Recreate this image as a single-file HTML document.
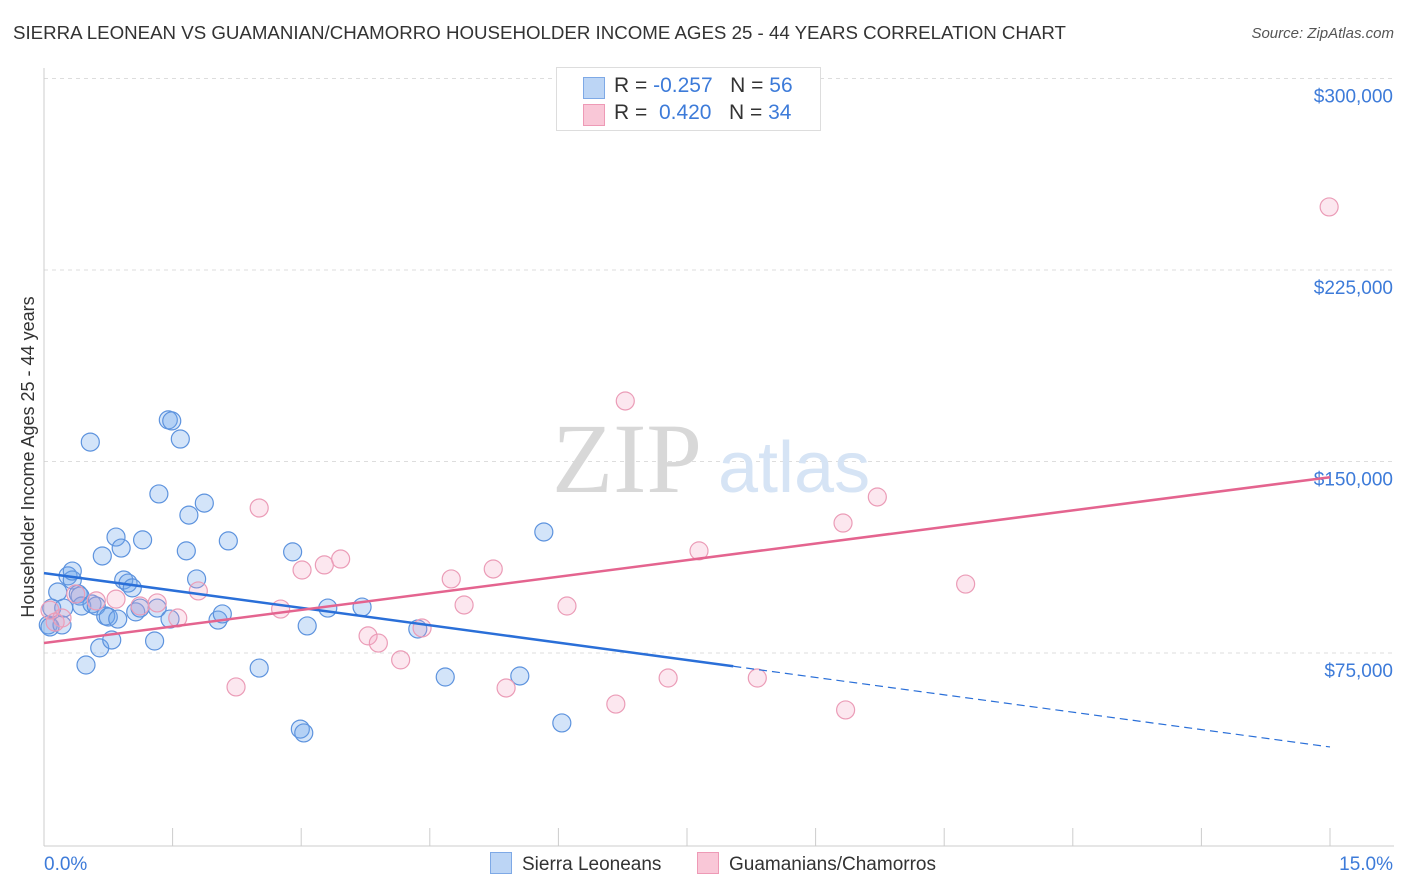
<!DOCTYPE html>
<html><head><meta charset="utf-8"><style>
body{margin:0;background:#fff;font-family:"Liberation Sans",sans-serif;}
#wrap{position:relative;width:1406px;height:892px;overflow:hidden;}
.t{position:absolute;white-space:nowrap;}
</style></head><body>
<div id="wrap">
<div class="t" style="left:13px;top:22px;font-size:18.7px;color:#333;">SIERRA LEONEAN VS GUAMANIAN/CHAMORRO HOUSEHOLDER INCOME AGES 25 - 44 YEARS CORRELATION CHART</div>
<div class="t" style="right:12px;top:25px;font-size:15px;color:#555;font-style:italic;">Source: ZipAtlas.com</div>
<svg id="svg" width="1406" height="892" style="position:absolute;left:0;top:0"></svg>
</div>
<script>
const yTicks=[75000,150000,225000,300000];
const yTickLabels=["$75,000","$150,000","$225,000","$300,000"];
const xTickLabels=["0.0%","15.0%"];
const blueX=[0.05,0.07,0.09,0.16,0.21,0.23,0.28,0.33,0.33,0.40,0.42,0.44,0.49,0.54,0.56,0.61,0.65,0.68,0.72,0.75,0.79,0.84,0.86,0.90,0.93,0.98,1.03,1.07,1.12,1.15,1.29,1.32,1.34,1.45,1.49,1.47,1.59,1.66,1.69,1.78,1.87,2.03,2.08,2.15,2.51,2.90,2.99,3.03,3.07,3.31,3.71,4.36,4.68,5.55,5.83,6.04];
const blueY=[86.0,85.2,92.6,98.9,86.0,92.6,105.2,103.6,107.1,98.1,97.3,93.4,70.3,157.6,94.2,93.4,77.0,113.0,89.5,89.1,80.1,120.4,88.3,116.1,103.6,102.4,100.5,91.1,92.6,119.3,79.7,92.6,137.3,166.3,165.9,88.3,158.8,115.0,129.0,104.0,133.7,87.9,90.3,118.9,69.1,114.6,45.2,43.7,85.6,92.6,93.0,84.4,65.6,66.0,122.4,47.6];
const pinkX=[0.07,0.13,0.21,0.37,0.61,0.84,1.12,1.32,1.56,1.80,2.24,2.51,2.76,3.01,3.27,3.46,3.78,3.90,4.16,4.41,4.75,4.90,5.24,5.39,6.10,6.67,6.78,7.28,7.64,8.32,9.32,9.35,9.72,10.75,14.99];
const pinkY=[91.8,87.1,88.7,98.1,95.4,96.1,93.4,94.6,88.7,99.3,61.7,131.8,92.2,107.5,109.5,111.8,81.7,78.9,72.3,84.8,104.0,93.8,107.9,61.3,93.4,55.0,173.7,65.2,115.0,65.2,125.9,52.7,136.1,102.0,249.7];
const blueTrend=[106.3,-4.54,8.04];
const pinkTrend=[78.9,4.33];
const NS="http://www.w3.org/2000/svg";
const svg=document.getElementById('svg');
const X0=44,X1=1330;
function sx(p){return X0+(p/15)*(X1-X0);}
function sy(v){return 653-(v-75000)*191.5/75000;}
function mk(tag,a,parent){const e=document.createElementNS(NS,tag);for(const k in a)e.setAttribute(k,a[k]);(parent||svg).appendChild(e);return e;}
yTicks.forEach((v,i)=>{
 const g=mk('line',{x1:44,x2:1394,y1:sy(v),y2:sy(v),stroke:'#ddd','stroke-dasharray':'4,4'});
 
 
 const t=mk('text',{x:1393,y:sy(v)+24,'text-anchor':'end','font-size':19,fill:'#3d7bd9','font-family':'Liberation Sans'});
 t.textContent=yTickLabels[i];
 
 
});
const ax=mk('line',{x1:44,x2:44,y1:68,y2:846,stroke:'#ccc'});


const bx=mk('line',{x1:44,x2:1394,y1:846,y2:846,stroke:'#ccc'});


for(let i=0;i<=10;i++){
 const tk=mk('line',{x1:sx(i*1.5),x2:sx(i*1.5),y1:828,y2:846,stroke:'#ccc'});
 
 
}
const xl0=mk('text',{x:44,y:870,'font-size':19,fill:'#3d7bd9','font-family':'Liberation Sans'});xl0.textContent=xTickLabels[0];


const xl1=mk('text',{x:1393,y:870,'text-anchor':'end','font-size':19,fill:'#3d7bd9','font-family':'Liberation Sans'});xl1.textContent=xTickLabels[1];


const yt=mk('text',{x:0,y:0,transform:'translate(34,457) rotate(-90)','text-anchor':'middle','font-size':18,fill:'#333','font-family':'Liberation Sans'});yt.textContent='Householder Income Ages 25 - 44 years';


const wm=mk('text',{x:552,y:492,'font-size':100,fill:'#d8d8d8','font-family':'Liberation Serif'});wm.textContent='ZIP';


const wm2=mk('text',{x:718,y:492,'font-size':72,fill:'#d6e4f5','font-family':'Liberation Sans'});wm2.textContent='atlas';


blueX.forEach((p,i)=>{
 const c=mk('circle',{cx:sx(p),cy:sy(blueY[i]*1000),r:9,fill:'rgba(110,165,235,0.3)',stroke:'#5d93de','stroke-width':1.2});
 
 
});
pinkX.forEach((p,i)=>{
 const c=mk('circle',{cx:sx(p),cy:sy(pinkY[i]*1000),r:9,fill:'rgba(245,160,190,0.25)',stroke:'#eb9cb7','stroke-width':1.2});
 
 
});
const bv=p=>(blueTrend[0]+blueTrend[1]*p)*1000;
const bl=mk('line',{x1:sx(0),y1:sy(bv(0)),x2:sx(blueTrend[2]),y2:sy(bv(blueTrend[2])),stroke:'#2a6fd8','stroke-width':2.5});


const bd=mk('line',{x1:sx(blueTrend[2]),y1:sy(bv(blueTrend[2])),x2:sx(15),y2:sy(bv(15)),stroke:'#2a6fd8','stroke-width':1.2,'stroke-dasharray':'8,5'});


const pv=p=>(pinkTrend[0]+pinkTrend[1]*p)*1000;
const pl=mk('line',{x1:sx(0),y1:sy(pv(0)),x2:sx(15),y2:sy(pv(15)),stroke:'#e4648f','stroke-width':2.5});


</script>
<div class="t" style="left:556px;top:67px;width:263px;height:62px;border:1px solid #ddd;background:#fff;font-size:21px;">
 <div style="position:absolute;left:26px;top:9px;width:20px;height:20px;background:#bcd5f5;border:1px solid #7ea9e6;"></div>
 <div class="t" style="left:57px;top:6px;color:#333;">R = <span style="color:#3d7bd9">-0.257</span>&nbsp;&nbsp;&nbsp;N = <span style="color:#3d7bd9">56</span></div>
 <div style="position:absolute;left:26px;top:36px;width:20px;height:20px;background:#f9c7d7;border:1px solid #ee9ab6;"></div>
 <div class="t" style="left:57px;top:33px;color:#333;">R = &nbsp;<span style="color:#3d7bd9">0.420</span>&nbsp;&nbsp;&nbsp;N = <span style="color:#3d7bd9">34</span></div>
</div>
<div class="t" style="left:490px;top:852px;font-size:19px;color:#333;">
 <span style="display:inline-block;width:20px;height:20px;background:#bcd5f5;border:1px solid #7ea9e6;vertical-align:-4px;margin-right:10px;"></span>Sierra Leoneans</div>
<div class="t" style="left:697px;top:852px;font-size:19px;color:#333;">
 <span style="display:inline-block;width:20px;height:20px;background:#f9c7d7;border:1px solid #ee9ab6;vertical-align:-4px;margin-right:10px;"></span>Guamanians/Chamorros</div>
</body></html>
